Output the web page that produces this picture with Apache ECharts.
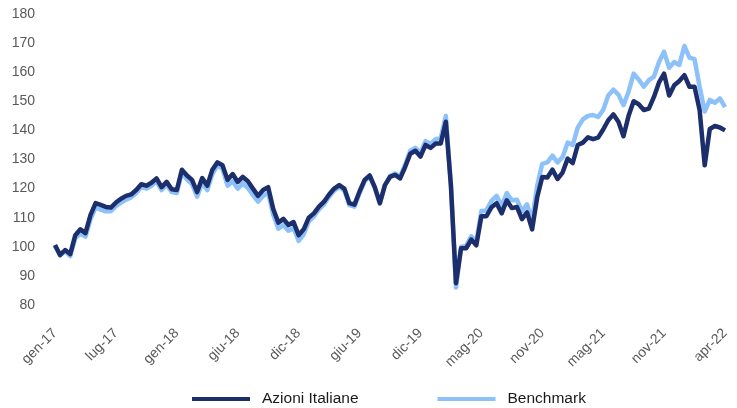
<!DOCTYPE html>
<html>
<head>
<meta charset="utf-8">
<script src="https://cdn.jsdelivr.net/npm/echarts@6/dist/echarts.min.js"></script>
<style>
html,body{margin:0;padding:0;background:#fff;}
#chart{width:737px;height:408px;}
</style>
</head>
<body>
<div id="chart"></div>
<script>
var tickLabels = ['gen-17','lug-17','gen-18','giu-18','dic-18','giu-19','dic-19','mag-20','nov-20','mag-21','nov-21','apr-22'];
var pointsPerTick = 12;

var azioniItaliane = [
100.6,97.2,98.9,97.5,104,106,104.7,111,115,114.4,113.7,113.5,
115.2,116.5,117.5,118,119.5,121.5,121,122,123.5,120.5,122.3,119.8,
119.5,126.5,124.5,123,118.8,123.6,121,126.5,129,128,123,125,
122.3,124,122.5,120,117.5,119.5,120.5,113,108.3,109.6,107.5,108.5,
104,106,110,111.5,113.8,115.5,118,120,121.2,120,115,114.5,
119,123,124.5,120.5,115,121.2,124,124.7,123.5,127.5,132,133,
131,135,134,135.5,135.5,143,121,87.5,99.5,99.5,102.5,100.5,
110.5,110.5,113.6,115,111.5,116,113.3,113.7,109.5,111.8,106,117,
124,123.8,126.5,123.3,125.5,130.3,128.8,135,135.8,137.6,137,137.5,
140.3,143.5,145.5,143,138,145,150,149,147,147.5,151.5,156.5,
159.5,152,155.5,157,159,155,155,147,128,140.5,141.5,141,
140
];

var benchmark = [
100.3,97,98.5,96.8,103,104.5,103.5,109.5,113.5,112.8,112.2,112.2,
114,115.2,116.2,117,118.5,120.5,120,121,122.5,119.5,121.3,118.8,
118.5,125.5,123.2,121.5,117.2,122,119.5,125,128,126.8,121,122.5,
120,121.8,120.2,117.8,115.5,117.5,118.5,111,106.2,107.5,105.5,106.5,
102,104.3,108.7,110.4,112.8,114.6,117.2,119.3,120.6,119.4,114.3,113.8,
118.4,122.5,124.2,120.3,114.8,121.2,124.3,125.2,124.2,128.3,133,134,
132.2,136.3,135.4,137,137.3,145,121.5,86,100,100.3,103.6,101.8,
112.3,112.5,115.8,117.5,114,118.5,116,116.2,112.2,114.6,109,121,
128.5,129,131.3,129,130.8,135.8,135,141,143.8,145,145.3,144.6,
147,152,154,152.3,148.7,153.3,159.5,157.5,155,157.3,158.5,163.5,
167,161.5,163.5,162.5,169,165,164.5,155,146.5,150.5,149.5,151,
148
];

var categories = [];
for (var i = 0; i < azioniItaliane.length; i++) {
  categories.push(i % pointsPerTick === 0 ? tickLabels[i / pointsPerTick] : '');
}

var textColor = '#595959';
var chart = echarts.init(document.getElementById('chart'), null, {renderer: 'canvas'});
chart.setOption({
  animation: false,
  backgroundColor: '#ffffff',
  grid: {left: 55, right: 12, top: 14, bottom: 103, containLabel: false},
  legend: {
    left: 192, top: 391, padding: 0,
    itemWidth: 58, itemHeight: 4, itemGap: 79,
    icon: 'rect',
    textStyle: {color: '#1a1a1a', fontFamily: 'Liberation Sans, Arial, sans-serif', fontSize: 15.5, padding: [0,0,0,7]},
    data: ['Azioni Italiane', 'Benchmark']
  },
  xAxis: {
    type: 'category',
    data: categories,
    boundaryGap: false,
    axisLine: {show: false},
    axisTick: {show: false},
    splitLine: {show: false},
    axisLabel: {
      interval: pointsPerTick - 1,
      rotate: 45,
      margin: 26,
      color: textColor,
      fontFamily: 'Liberation Sans, Arial, sans-serif',
      fontSize: 14
    }
  },
  yAxis: {
    type: 'value',
    min: 80, max: 180, interval: 10,
    axisLine: {show: false},
    axisTick: {show: false},
    splitLine: {show: false},
    axisLabel: {
      margin: 20,
      color: textColor,
      fontFamily: 'Liberation Sans, Arial, sans-serif',
      fontSize: 14
    }
  },
  series: [
    {
      name: 'Benchmark', type: 'line', data: benchmark,
      showSymbol: false, symbol: 'none', z: 2,
      color: '#8cc1f9',
      lineStyle: {width: 4.5, color: '#8cc1f9', join: 'round'}
    },
    {
      name: 'Azioni Italiane', type: 'line', data: azioniItaliane,
      showSymbol: false, symbol: 'none', z: 3,
      color: '#1c2e6b',
      lineStyle: {width: 4.5, color: '#1c2e6b', join: 'round'}
    }
  ]
});
</script>
</body>
</html>
